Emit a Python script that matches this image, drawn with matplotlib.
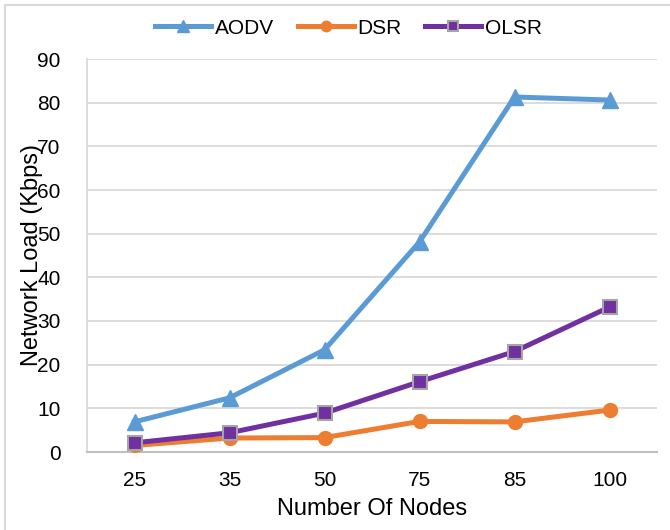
import matplotlib.pyplot as plt
from matplotlib.patches import Rectangle

plt.rcParams['font.family'] = ['Liberation Sans', 'DejaVu Sans']

nodes = ["25", "35", "50", "75", "85", "100"]
aodv = [6.9, 12.4, 23.4, 48.1, 81.3, 80.6]
dsr = [1.5, 3.2, 3.3, 7.0, 6.9, 9.6]
olsr = [2.1, 4.4, 8.9, 16.1, 23.0, 33.2]

x = range(len(nodes))

fig = plt.figure(figsize=(6.7, 5.3), dpi=100)
ax = fig.add_axes([87 / 670, 78 / 530, 570 / 670, 393 / 530])

# chart frame (only top and left edges fall inside the canvas)
fig.patches.append(Rectangle((5 / 670, -0.1), 1.2, (525 / 530) + 0.1,
                             transform=fig.transFigure, fill=False,
                             edgecolor="#d9d9d9", linewidth=1.5))

ax.plot(x, aodv, color="#5b9bd5", linewidth=3.6, marker="^", markersize=11,
        markeredgecolor="#5b9bd5", label="AODV", zorder=3)
ax.plot(x, dsr, color="#ed7d31", linewidth=3.6, marker="o", markersize=10,
        markeredgecolor="#ed7d31", label="DSR", zorder=3)
ax.plot(x, olsr, color="#7030a0", linewidth=3.6, marker="s", markersize=10,
        markeredgecolor="#a5a5a5", markeredgewidth=1.5, label="OLSR", zorder=4)

ax.set_xlim(-0.5, len(nodes) - 0.5)
ax.set_ylim(0, 90)
ax.set_yticks(range(0, 91, 10))
ax.set_xticks(list(x))
ax.set_xticklabels(nodes)

ax.grid(axis="y", color="#d9d9d9", linewidth=1.3)
ax.set_axisbelow(True)
for side in ["top", "right"]:
    ax.spines[side].set_visible(False)
ax.spines["left"].set_color("#d9d9d9")
ax.spines["left"].set_linewidth(1.3)
ax.spines["bottom"].set_color("#bfbfbf")
ax.spines["bottom"].set_linewidth(1.5)
ax.tick_params(axis="both", length=0, labelsize=15, colors="black")
ax.tick_params(axis="y", pad=19)
ax.tick_params(axis="x", pad=14)

ax.set_xlabel("Number Of Nodes", fontsize=17)
ax.xaxis.set_label_coords(0.5, -0.117)
ax.set_ylabel("Network Load (Kbps)", fontsize=17)
ax.yaxis.set_label_coords(-0.077, 0.5)

fig.legend(loc="center", bbox_to_anchor=(0.52, 1 - 28 / 530), ncol=3,
           frameon=False, fontsize=15, handlelength=2.7, handletextpad=0.15,
           columnspacing=1.15, borderaxespad=0, markerscale=0.75)

fig.savefig("out.png", dpi=100)
